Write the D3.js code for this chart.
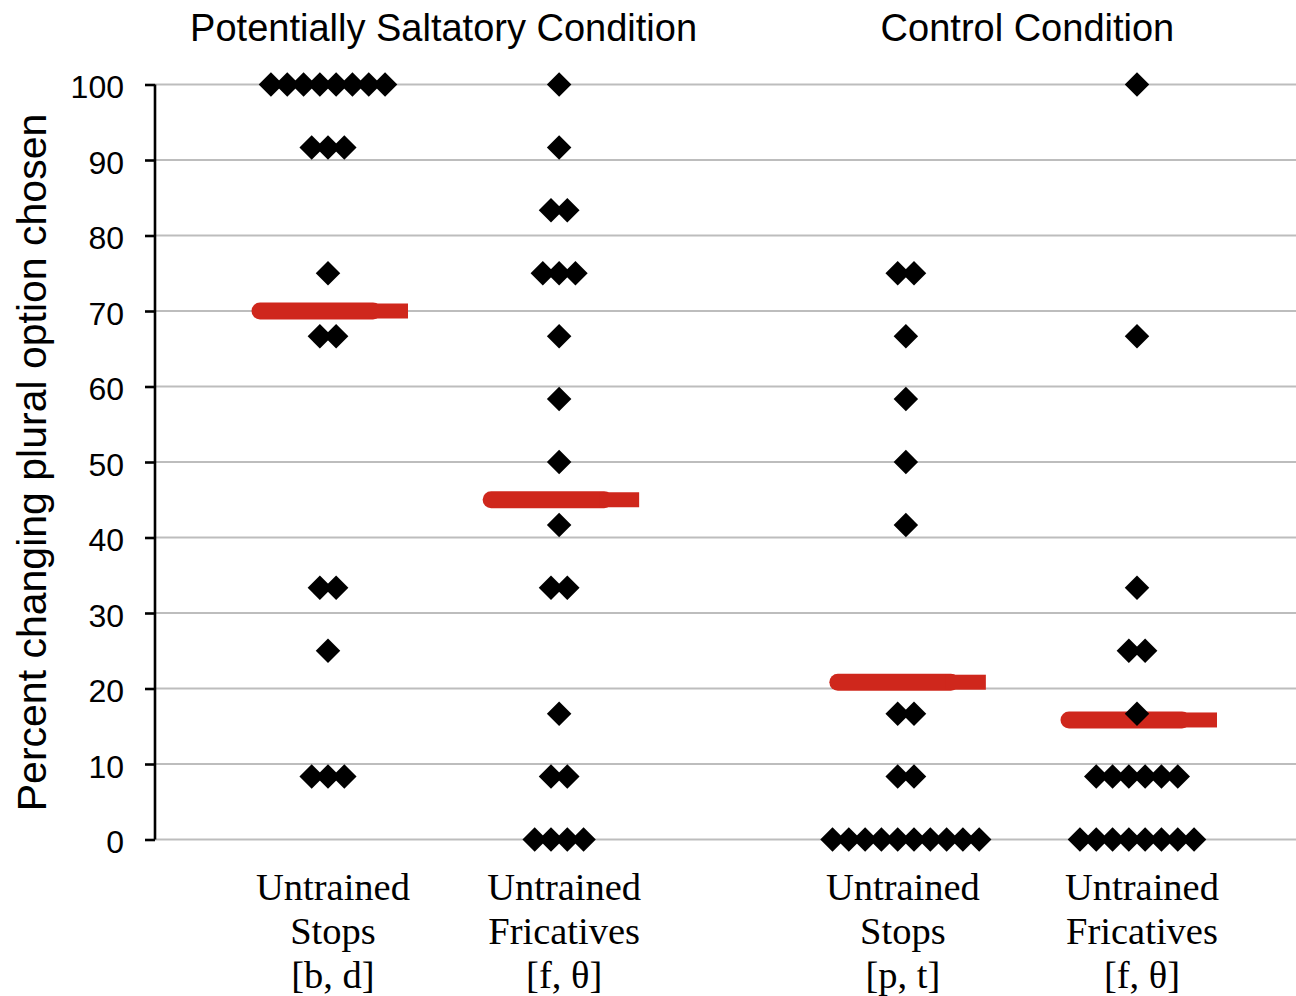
<!DOCTYPE html>
<html>
<head>
<meta charset="utf-8">
<script src="https://cdn.jsdelivr.net/npm/d3@7"></script>
<style>
  body { margin: 0; background: #fff; }
  text { fill: #000; }
</style>
</head>
<body>
<div id="chart"></div>
<script>
const width = 1296;
const height = 996;

// Data: one score per participant (percent of plural-changing option chosen).
const categories = ["ps-stops", "ps-fric", "c-stops", "c-fric"];
const categoryLines = [
  ["Untrained", "Stops", "[b, d]"],
  ["Untrained", "Fricatives", "[f, θ]"],
  ["Untrained", "Stops", "[p, t]"],
  ["Untrained", "Fricatives", "[f, θ]"]
];
const conditions = ["Potentially Saltatory Condition", "Control Condition"];

const psStops = [100, 100, 100, 100, 100, 100, 100, 100, 91.67, 91.67, 91.67,
  75, 66.67, 66.67, 33.33, 33.33, 25, 8.33, 8.33, 8.33];
const psFric = [100, 91.67, 83.33, 83.33, 75, 75, 75, 66.67, 58.33, 50, 41.67,
  33.33, 33.33, 16.67, 8.33, 8.33, 0, 0, 0, 0];
const cStops = [75, 75, 66.67, 58.33, 50, 41.67, 16.67, 16.67, 8.33, 8.33,
  0, 0, 0, 0, 0, 0, 0, 0, 0, 0];
const cFric = [100, 66.67, 33.33, 25, 25, 16.67, 8.33, 8.33, 8.33, 8.33, 8.33, 8.33,
  0, 0, 0, 0, 0, 0, 0, 0];

const series = [psStops, psFric, cStops, cFric];
const yTicks = [0, 10, 20, 30, 40, 50, 60, 70, 80, 90, 100];

// Scales.
const y = d3.scaleLinear().domain([0, 100]).range([839.5, 84.5]);
// slot index: the two conditions are separated by an extra half-slot
const slot = i => i + (i >= 2 ? 0.5 : 0);
const xSlot = d3.scaleLinear().domain([0, 3.5]).range([328, 1137]);
const x = c => xSlot(slot(categories.indexOf(c)));
const step = 16.3; // horizontal spacing between stacked diamonds

const svg = d3.select("#chart")
  .append("svg")
  .attr("width", width)
  .attr("height", height);

// Gridlines.
svg.append("g")
  .selectAll("line")
  .data(yTicks)
  .join("line")
  .attr("x1", 155)
  .attr("x2", width)
  .attr("y1", d => y(d))
  .attr("y2", d => y(d))
  .attr("stroke", "#bdbdbd")
  .attr("stroke-width", 2.2);

// Y axis.
const yAxis = svg.append("g")
  .attr("transform", "translate(155,0)")
  .call(d3.axisLeft(y).tickValues(yTicks).tickSize(10).tickPadding(21));
yAxis.select(".domain").attr("stroke", "#000").attr("stroke-width", 2.6)
  .attr("d", `M0,${y(0)}V${y(100)}`);
yAxis.selectAll(".tick line").attr("stroke", "#000").attr("stroke-width", 2.6);
yAxis.selectAll(".tick text")
  .attr("font-family", "Liberation Sans, Arial, sans-serif")
  .attr("font-size", 32)
  .attr("dy", "0.42em");

svg.append("text")
  .attr("transform", `translate(46,${(115 + 810) / 2}) rotate(-90)`)
  .attr("text-anchor", "middle")
  .attr("font-family", "Liberation Sans, Arial, sans-serif")
  .attr("font-size", 41)
  .text("Percent changing plural option chosen");

// Condition titles.
svg.append("g")
  .selectAll("text")
  .data(conditions)
  .join("text")
  .attr("x", (d, i) => (xSlot(slot(2 * i)) + xSlot(slot(2 * i + 1))) / 2 + i * 6)
  .attr("y", 41)
  .attr("text-anchor", "middle")
  .attr("font-family", "Liberation Sans, Arial, sans-serif")
  .attr("font-size", 38)
  .text(d => d);

// Category labels.
const catLabel = svg.append("g")
  .selectAll("text")
  .data(categories)
  .join("text")
  .attr("text-anchor", "middle")
  .attr("font-family", "Liberation Serif, Times New Roman, serif")
  .attr("font-size", 38.5);
catLabel.selectAll("tspan")
  .data((d, i) => categoryLines[i].map(t => ({ t, c: d, i })))
  .join("tspan")
  .attr("x", d => x(d.c) + (d.i === 2 ? -3 : 5))
  .attr("y", (d, j) => 900 + j * 44)
  .text(d => d.t);

// Diamonds: stack equal scores side by side.
const points = [];
series.forEach((vals, i) => {
  const rows = d3.group(vals, v => v);
  rows.forEach((row, v) => {
    row.forEach((_, k) => {
      points.push({ c: categories[i], v, offset: (k - (row.length - 1) / 2) * step });
    });
  });
});

// Mean lines
const means = series.map((vals, i) => ({ c: categories[i], m: d3.mean(vals) }));
const meanG = svg.append("g").attr("fill", "#cf271c").attr("stroke", "#cf271c");
meanG.selectAll("line")
  .data(means)
  .join("line")
  .attr("x1", d => x(d.c) - 68)
  .attr("x2", d => x(d.c) + 45)
  .attr("y1", d => y(d.m))
  .attr("y2", d => y(d.m))
  .attr("stroke-width", 17)
  .attr("stroke-linecap", "round");
meanG.selectAll("rect")
  .data(means)
  .join("rect")
  .attr("stroke", "none")
  .attr("x", d => x(d.c) + 40)
  .attr("width", 40)
  .attr("y", d => y(d.m) - 7.5)
  .attr("height", 15);

const diamond = d3.symbol(d3.symbolSquare, 300);
svg.append("g")
  .selectAll("path")
  .data(points)
  .join("path")
  .attr("d", diamond)
  .attr("transform", d => `translate(${x(d.c) + d.offset},${y(d.v)}) rotate(45)`)
  .attr("fill", "#000");
</script>
</body>
</html>
